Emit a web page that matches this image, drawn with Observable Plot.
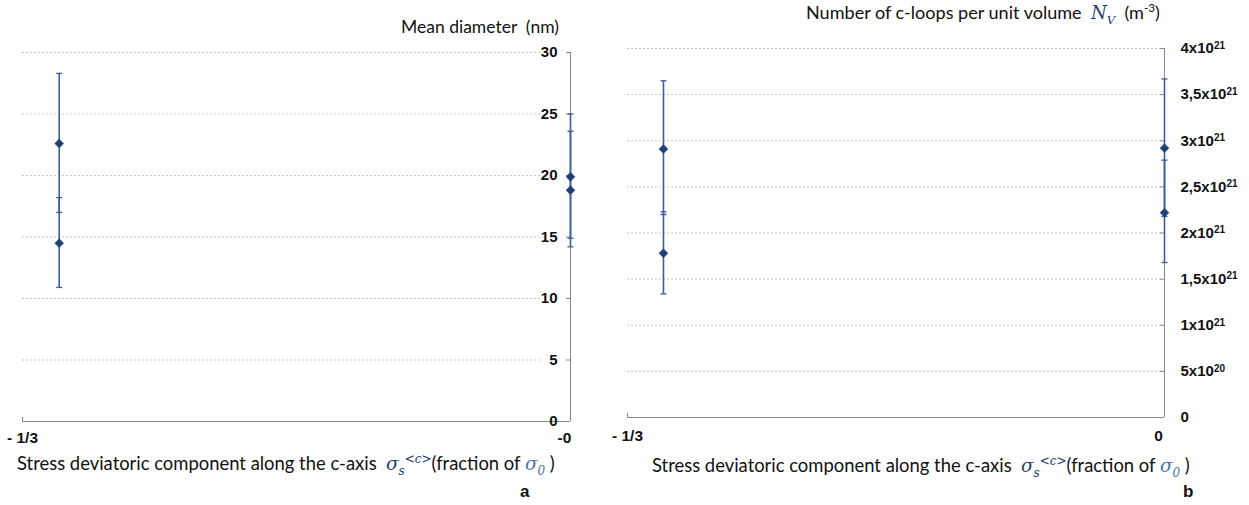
<!DOCTYPE html>
<html><head><meta charset="utf-8">
<script src="https://cdn.jsdelivr.net/npm/d3@7"></script>
<script src="https://cdn.jsdelivr.net/npm/@observablehq/plot@0.6"></script>
<style>
body{margin:0;background:#fff;}
#root{position:relative;width:1249px;height:505px;overflow:hidden;font-family:Lato,"Open Sans",sans-serif;color:#111;}
.abs{position:absolute;white-space:nowrap;line-height:1.2;}
.ttl{font-size:17px;}
.math{font-family:"DejaVu Serif","Liberation Serif",serif;font-style:italic;color:#1f3f75;}
.math0{font-family:"DejaVu Serif","Liberation Serif",serif;font-style:italic;color:#4a74b0;}
.lbl{font-family:"Liberation Sans",Arial,sans-serif;font-weight:bold;font-size:17px;}
.plot{position:absolute;top:0;}
sub,sup{font-size:0.65em;line-height:0;}
</style></head><body><div id="root"></div>
<script>
// ---- data ----
const stressX = [-0.311, -0.311, 0, 0];
const meanDiameter = [22.6, 14.5, 19.9, 18.8];
const diameterLow = [17.0, 10.9, 14.9, 14.2];
const diameterHigh = [28.3, 18.2, 25.0, 23.6];
const loopDensity = [2.91e21, 1.78e21, 2.92e21, 2.22e21];
const densityLow = [2.20e21, 1.34e21, 2.18e21, 1.68e21];
const densityHigh = [3.65e21, 2.23e21, 3.67e21, 2.79e21];
const xTicks = [-1/3, 0];
const xTickLabelsA = ["- 1/3", "-0"];
const xTickLabelsB = ["- 1/3", "0"];
const yTicksA = [0, 5, 10, 15, 20, 25, 30];
const yTicksB = [0, 5e20, 1e21, 1.5e21, 2e21, 2.5e21, 3e21, 3.5e21, 4e21];
const yTickLabelsB = ["0", "5x10^20", "1x10^21", "1,5x10^21", "2x10^21", "2,5x10^21", "3x10^21", "3,5x10^21", "4x10^21"];

const rowsA = stressX.map((x, i) => ({x, y: meanDiameter[i], lo: diameterLow[i], hi: diameterHigh[i]}));
const rowsB = stressX.map((x, i) => ({x, y: loopDensity[i], lo: densityLow[i], hi: densityHigh[i]}));

const axisColor = "#888";
const barColor = "#3a5f98";
const markColor = "#1f3f75";
const gridColor = "#c4c4c4";
const capSymbol = {draw(ctx) { ctx.moveTo(-3, 0); ctx.lineTo(3, 0); }};

function errorMarks(rows) {
  return [
    Plot.ruleX(rows, {x: "x", y1: "lo", y2: "hi", stroke: barColor, strokeWidth: 1.6}),
    Plot.dot(rows, {x: "x", y: "lo", symbol: capSymbol, fill: "none", stroke: barColor, strokeWidth: 1.3}),
    Plot.dot(rows, {x: "x", y: "hi", symbol: capSymbol, fill: "none", stroke: barColor, strokeWidth: 1.3}),
    Plot.dot(rows, {x: "x", y: "y", symbol: "diamond2", r: 4, fill: markColor, stroke: markColor, strokeWidth: 0.5})
  ];
}
function xAxisMarks(labels, pad) {
  const fmt = d => labels[xTicks.indexOf(d)];
  return [
    Plot.axisX([xTicks[0]], {tickSize: 0, tickPadding: pad, label: null, tickFormat: fmt, fontSize: 15.5}),
    Plot.axisX([xTicks[1]], {tickSize: 0, tickPadding: pad, label: null, tickFormat: fmt, fontSize: 15.5, dx: -6})
  ];
}

const H = 450;
const plotStyle = {fontFamily: "'Liberation Sans', Arial, sans-serif", fontSize: "15px", fontWeight: "bold", color: "#111", background: "transparent"};
// Panel a
const mA = {l: 22, r: 30, t: 52, b: 29};
const wA = 600;
const plotA = Plot.plot({
  width: wA, height: H,
  marginLeft: mA.l, marginRight: mA.r, marginTop: mA.t, marginBottom: mA.b,
  x: {domain: [-1/3, 0], label: null},
  y: {domain: [0, 30], label: null},
  style: plotStyle,
  marks: [
    Plot.gridY(yTicksA.filter(d => d > 0), {stroke: gridColor, strokeOpacity: 1, strokeDasharray: "2,2", insetRight: 30}),
    Plot.ruleY([0], {stroke: axisColor}),
    Plot.ruleX([0], {stroke: axisColor}),
    Plot.tickY(yTicksA, {stroke: axisColor, insetLeft: wA - mA.l - mA.r - 4}),
    Plot.tickX([xTicks[0]], {stroke: axisColor, insetTop: H - mA.t - mA.b - 4}),
    Plot.axisY(yTicksA, {anchor: "right", tickSize: 0, tickPadding: 0, dx: -13, textAnchor: "end", label: null, tickFormat: d => String(d), fontSize: 15}),
    ...xAxisMarks(xTickLabelsA, 10),
    ...errorMarks(rowsA)
  ]
});

// Panel b
const mB = {l: 27, r: 85, t: 48, b: 33};
const wB = 649;
const plotB = Plot.plot({
  width: wB, height: H,
  marginLeft: mB.l, marginRight: mB.r, marginTop: mB.t, marginBottom: mB.b,
  x: {domain: [-1/3, 0], label: null},
  y: {domain: [0, 4e21], label: null},
  style: plotStyle,
  marks: [
    Plot.gridY(yTicksB.filter(d => d > 0), {stroke: gridColor, strokeOpacity: 1, strokeDasharray: "2,2", insetRight: 3}),
    Plot.ruleY([0], {stroke: axisColor}),
    Plot.ruleX([0], {stroke: axisColor}),
    Plot.tickY(yTicksB, {stroke: axisColor, insetLeft: wB - mB.l - mB.r - 4}),
    Plot.tickX([xTicks[0]], {stroke: axisColor, insetTop: H - mB.t - mB.b - 4}),
    Plot.axisY(yTicksB, {anchor: "right", tickSize: 0, tickPadding: 16, textAnchor: "start", label: null, tickFormat: d => yTickLabelsB[yTicksB.indexOf(d)], fontSize: 15}),
    ...xAxisMarks(xTickLabelsB, 12),
    ...errorMarks(rowsB)
  ]
});

// superscript exponents in panel b tick labels
d3.select(plotB).selectAll("text").each(function() {
  const t = this.textContent;
  if (t.includes("^")) {
    const [base, exp] = t.split("^");
    const sel = d3.select(this);
    sel.text(null);
    sel.append("tspan").text(base);
    sel.append("tspan").attr("dy", "-0.45em").attr("font-size", "10px").text(exp);
  }
});

const root = document.getElementById("root");
plotA.classList.add("plot"); plotA.style.left = "0px";
plotB.classList.add("plot"); plotB.style.left = "600px";
root.appendChild(plotA);
root.appendChild(plotB);

function addText(html, left, right, cy, cls) {
  const d = document.createElement("div");
  d.className = "abs " + cls;
  d.style.left = left + "px";
  d.innerHTML = html;
  root.appendChild(d);
  if (right != null) {
    const w = d.getBoundingClientRect().width;
    const fs = parseFloat(getComputedStyle(d).fontSize);
    d.style.fontSize = (fs * (right - left) / w) + "px";
  }
  const h = d.getBoundingClientRect().height;
  d.style.top = (cy - h / 2) + "px";
}
const sigmaLabel = 'Stress deviatoric component along the c-axis&nbsp; <span class="math">σ</span><sub class="math">s</sub><sup class="math">&lt;c&gt;</sup>(fraction of <span class="math0">σ</span><sub class="math0">0</sub> )';
addText("Mean diameter&nbsp; (nm)", 401, 559, 26, "ttl");
addText('Number of c-loops per unit volume&nbsp; <span class="math">N</span><sub class="math">V</sub>&nbsp; (m<sup>-3</sup>)', 806, 1160, 13, "ttl");
addText(sigmaLabel, 17, 555, 464, "ttl");
addText(sigmaLabel, 652, 1190, 466, "ttl");
addText("a", 520, null, 492, "lbl");
addText("b", 1183, null, 492, "lbl");
</script></body></html>
